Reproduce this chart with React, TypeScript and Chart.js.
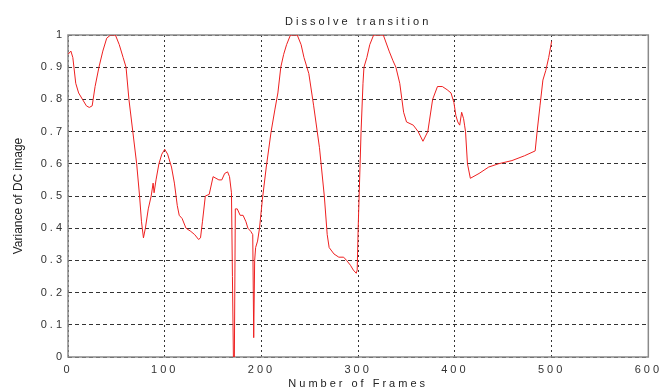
import React, { useEffect, useRef } from 'react';
import { Chart, registerables } from 'chart.js';

Chart.register(...registerables);

const chartTitle = 'Dissolve transition';
const xAxisTitle = 'Number of Frames';
const yAxisTitle = 'Variance of DC image';

const frames = [
  0, 3, 5, 8, 11, 15, 19, 22, 25, 28, 32, 36, 40, 44, 49, 53, 57, 60, 63, 67,
  71, 74, 76, 78, 80, 83, 86, 88, 89, 91, 94, 97, 100, 103, 107, 110, 113, 115, 118, 122,
  127, 131, 135, 137, 139, 142, 146, 150, 153, 156, 159, 162, 165, 167, 169, 170, 171, 172, 173, 175,
  178, 181, 184, 186, 189, 191, 192, 193, 194, 196, 198, 201, 205, 210, 214, 217, 220, 223, 226, 230,
  237, 241, 244, 249, 254, 260, 265, 268, 270, 275, 280, 285, 288, 292, 295, 298, 299, 300, 301, 302,
  303, 305, 306, 309, 312, 316, 326, 332, 336, 339, 343, 347, 350, 357, 362, 367, 372, 377, 382, 387,
  392, 396, 399, 401, 403, 405, 407, 409, 410, 411, 413, 416, 425, 435, 445, 459, 472, 483, 485, 488,
  491, 494, 497, 500,
];

const variance = [
  0.94, 0.95, 0.93, 0.85, 0.82, 0.8, 0.78, 0.775, 0.78, 0.84, 0.9, 0.95, 0.99, 1.0, 1.0, 0.97, 0.93, 0.9, 0.8, 0.7,
  0.6, 0.5, 0.42, 0.37, 0.4, 0.46, 0.5, 0.54, 0.51, 0.55, 0.6, 0.63, 0.645, 0.63, 0.59, 0.54, 0.47, 0.44, 0.43, 0.4,
  0.39, 0.38, 0.365, 0.37, 0.42, 0.5, 0.505, 0.56, 0.555, 0.55, 0.55, 0.57, 0.575, 0.56, 0.51, 0.25, 0.0, 0.0, 0.46, 0.46,
  0.44, 0.44, 0.42, 0.4, 0.39, 0.38, 0.06, 0.3, 0.34, 0.36, 0.4, 0.49, 0.59, 0.7, 0.77, 0.82, 0.9, 0.94, 0.97, 1.0,
  1.0, 0.97, 0.93, 0.88, 0.78, 0.65, 0.5, 0.38, 0.34, 0.32, 0.31, 0.31, 0.3, 0.285, 0.27, 0.26, 0.27, 0.4, 0.5, 0.6,
  0.7, 0.85, 0.9, 0.93, 0.97, 1.0, 1.0, 0.95, 0.92, 0.9, 0.85, 0.76, 0.73, 0.72, 0.7, 0.67, 0.7, 0.8, 0.84, 0.84,
  0.83, 0.82, 0.79, 0.75, 0.73, 0.72, 0.76, 0.74, 0.72, 0.7, 0.6, 0.555, 0.57, 0.59, 0.6, 0.61, 0.625, 0.64, 0.7, 0.78,
  0.86, 0.89, 0.93, 0.98,
];

const xTickValues = [0, 100, 200, 300, 400, 500, 600];
const yTickValues = [0, 0.1, 0.2, 0.3, 0.4, 0.5, 0.6, 0.7, 0.8, 0.9, 1];

const spacingPlugin = {
  id: 'letterSpacing',
  beforeLayout(chart: any) {
    chart.ctx.letterSpacing = '3px';
  },
  beforeDraw(chart: any) {
    const ctx = chart.ctx;
    ctx.letterSpacing = '3px';
    const s = chart.scales.y;
    if (s && !s.__patched) {
      const orig = s.drawTitle.bind(s);
      s.drawTitle = function () {
        const prev = ctx.letterSpacing;
        ctx.letterSpacing = '0px';
        orig();
        ctx.letterSpacing = prev;
      };
      s.__patched = true;
    }
  },
};

const framePlugin = {
  id: 'plotFrame',
  beforeDatasetsDraw(chart: any) {
    const { ctx, chartArea } = chart;
    ctx.save();
    ctx.setLineDash([]);
    ctx.strokeStyle = '#8a8a8a';
    ctx.lineWidth = 1.5;
    ctx.strokeRect(chartArea.left, chartArea.top, chartArea.right - chartArea.left, chartArea.bottom - chartArea.top);
    ctx.restore();
  },
};

export default function App() {
  const ref = useRef<HTMLCanvasElement | null>(null);

  useEffect(() => {
    if (!ref.current) return;
    Chart.defaults.font.family = "'Liberation Sans', Arial, sans-serif";
    const chart = new Chart(ref.current, {
      type: 'line',
      data: {
        datasets: [
          {
            label: yAxisTitle,
            data: frames.map((f, i) => ({ x: f, y: variance[i] })),
            borderColor: '#ee2020',
            borderWidth: 1,
            pointRadius: 0,
            tension: 0,
            fill: false,
          },
        ],
      },
      options: {
        animation: false,
        responsive: false,
        devicePixelRatio: 1,
        layout: { padding: { left: 0, right: 12, top: 0, bottom: 0 } },
        plugins: {
          legend: { display: false },
          tooltip: { enabled: false },
          title: {
            display: true,
            text: chartTitle,
            fullSize: false,
            color: '#222',
            font: { size: 11, weight: 'normal' },
            padding: { top: 15, bottom: 6.8 },
          },
        },
        scales: {
          x: {
            type: 'linear',
            min: 0,
            max: 600,
            afterFit: (s: any) => {
              s.height = 35;
            },
            afterBuildTicks: (s: any) => {
              s.ticks = xTickValues.map((v) => ({ value: v }));
            },
            ticks: {
              color: '#333',
              font: { size: 11 },
              padding: 6,
              maxRotation: 0,
              callback: (v: any) => String(v),
            },
            grid: { color: '#333', lineWidth: 1, drawTicks: false },
            border: { display: false, dash: [2, 3] },
            title: {
              display: true,
              text: xAxisTitle,
              color: '#222',
              font: { size: 11 },
              padding: { top: 0, bottom: 1 },
            },
          },
          y: {
            type: 'linear',
            min: 0,
            max: 1,
            afterFit: (s: any) => {
              s.width = 68;
            },
            afterBuildTicks: (s: any) => {
              s.ticks = yTickValues.map((v) => ({ value: v }));
            },
            ticks: {
              color: '#333',
              font: { size: 11 },
              padding: 3,
              callback: (v: any) => String(Math.round(Number(v) * 10) / 10),
            },
            grid: { color: '#333', lineWidth: 1, drawTicks: false },
            border: { display: false, dash: [4, 3] },
            title: {
              display: true,
              text: yAxisTitle,
              color: '#222',
              font: { size: 12 },
              padding: { top: 11, bottom: 0 },
            },
          },
        },
      } as any,
      plugins: [spacingPlugin, framePlugin],
    });
    return () => chart.destroy();
  }, []);

  return (
    <div style={{ position: 'absolute', left: 0, top: 0, width: 668, height: 392, background: '#fff' }}>
      <canvas ref={ref} width={668} height={392} style={{ display: 'block' }} />
    </div>
  );
}
